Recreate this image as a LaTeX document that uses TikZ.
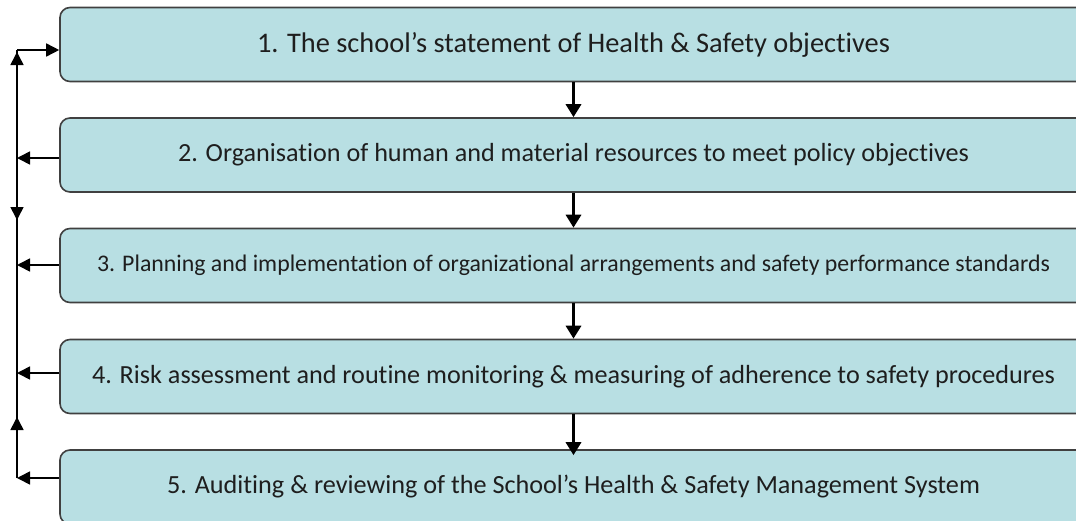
\documentclass[tikz,border=0pt]{standalone}
\usepackage{fontspec}
\setmainfont{Carlito}[Ligatures=NoCommon]
\usetikzlibrary{arrows.meta}
\definecolor{boxfill}{RGB}{184,223,227}
\definecolor{boxline}{RGB}{64,64,64}
\definecolor{textcol}{RGB}{30,30,30}
\newcommand\fitto[2]{\setbox0=\hbox{\fontsize{10pt}{12pt}\selectfont #2}\pgfmathsetmacro\fitsz{10*#1/\wd0}\fontsize{\fitsz pt}{\fitsz pt}\selectfont #2}
\tikzset{
  stage/.style={draw=boxline, line width=1.6pt, fill=boxfill, rounded corners=10pt,
    minimum width=1027pt, minimum height=74pt, inner sep=0pt, text=textcol},
  flow/.style={line width=3.5pt, -{Triangle[length=13pt,width=15pt]}},
  loop/.style={line width=1.6pt},
  looparrow/.style={line width=1.6pt, -{Triangle[length=13pt,width=13pt]}}
}
\begin{document}
\begin{tikzpicture}[x=1pt,y=1pt]
\useasboundingbox (0,0) rectangle (1076,-520);
\node[stage] (b1) at (573.5,-44.5) {\fitto{633}{1. The school’s statement of Health \& Safety objectives}};
\node[stage] (b2) at (573.5,-155) {\fitto{791}{2. Organisation of human and material resources to meet policy objectives}};
\node[stage] (b3) at (573.5,-265.5) {\fitto{953}{3. Planning and implementation of organizational arrangements and safety performance standards}};
\node[stage] (b4) at (573.5,-376.5) {\fitto{963}{4. Risk assessment and routine monitoring \& measuring of adherence to safety procedures}};
\node[stage] (b5) at (573.5,-487) {\fitto{813}{5. Auditing \& reviewing of the School’s Health \& Safety Management System}};
% vertical flow arrows
\draw[flow] (b1.south) -- (b2.north);
\draw[flow] (b2.south) -- (b3.north);
\draw[flow] (b3.south) -- (b4.north);
\draw[flow] (b4.south) -- ([yshift=-6pt]b5.north);
% feedback loop
\coordinate (L1) at (17,-50);
\coordinate (L2) at (17,-158);
\coordinate (L3) at (17,-265);
\coordinate (L4) at (17,-373);
\coordinate (L5) at (17,-478);
\coordinate (U1a) at (17,-80);
\coordinate (U1b) at (17,-52);
\coordinate (D1a) at (17,-190);
\coordinate (D1b) at (17,-220);
\coordinate (U2a) at (17,-440);
\coordinate (U2b) at (17,-417);
\draw[loop] (L5) -- (L1);
\draw[looparrow] (L1) -- (b1.west |- L1);
\draw[looparrow] (b2.west |- L2) -- (L2);
\draw[looparrow] (b3.west |- L3) -- (L3);
\draw[looparrow] (b4.west |- L4) -- (L4);
\draw[looparrow] (b5.west |- L5) -- (L5);
\draw[looparrow] (U1a) -- (U1b);
\draw[looparrow] (D1a) -- (D1b);
\draw[looparrow] (U2a) -- (U2b);
\end{tikzpicture}
\end{document}
